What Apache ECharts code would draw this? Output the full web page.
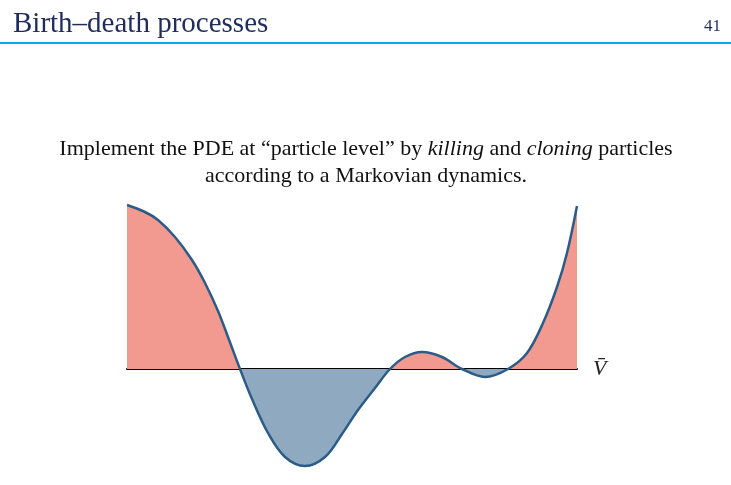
<!DOCTYPE html>
<html>
<head>
<meta charset="utf-8">
<title>Birth–death processes</title>
<script src="https://cdn.jsdelivr.net/npm/echarts@6/dist/echarts.min.js"></script>
<style>
  html, body { margin: 0; padding: 0; background: #fff; }
  #chart { width: 731px; height: 485px; }
</style>
</head>
<body>
<div id="chart"></div>
<script>
// ---- DATA (y = height above the level V̄) ----
const xs = [0, 18, 31, 48, 65, 78, 91, 101, 113, 125, 141, 158, 178, 198, 215,
            231, 248, 263, 278, 295, 315, 335, 358, 381, 400, 416, 430, 440, 450];
const ys = [164, 157, 149, 132, 109, 86, 58, 32, 0, -30, -64, -88, -97, -88, -65,
            -41, -19, 0, 12, 17, 12, 0, -8, 0, 16, 46, 82, 116, 163];
const levelLabel = 'V\u0304';

const serif = '"Liberation Serif", "DejaVu Serif", serif';
const points = xs.map((x, i) => [x, ys[i]]);

const chart = echarts.init(document.getElementById('chart'), null, { renderer: 'canvas' });
chart.setOption({
  backgroundColor: '#fff',
  animation: false,
  title: {
    text: 'Birth–death processes',
    left: 8, top: 5,
    textStyle: { fontFamily: serif, fontSize: 29, fontWeight: 'normal', color: '#1f2c5c' }
  },
  graphic: [
    { type: 'rect', shape: { x: 0, y: 42, width: 731, height: 2 }, style: { fill: '#00adef' } },
    { type: 'text', right: 10, top: 18,
      style: { text: '41', font: '17px ' + serif, fill: '#1f2c5c' } },
    { type: 'text', x: 366, y: 136,
      style: {
        text: '{n|Implement the PDE at “particle level” by }{i|killing}{n| and }{i|cloning}{n| particles}\n{n|according to a Markovian dynamics.}',
        align: 'center',
        rich: {
          n: { fontFamily: serif, fontSize: 22, fill: '#111', lineHeight: 27 },
          i: { fontFamily: serif, fontSize: 22, fontStyle: 'italic', fill: '#111', lineHeight: 27 }
        }
      } }
  ],
  grid: { left: 127, right: 154, top: 199, bottom: 16 },
  xAxis: {
    type: 'value', min: 0, max: 450,
    name: levelLabel, nameLocation: 'end', nameGap: 16,
    nameTextStyle: { fontFamily: serif, fontStyle: 'italic', fontSize: 22, color: '#222', verticalAlign: 'middle' },
    axisLine: { onZero: true, lineStyle: { color: '#000', width: 2 } },
    axisTick: { show: false }, axisLabel: { show: false }, splitLine: { show: false }
  },
  yAxis: {
    type: 'value', min: -100, max: 170,
    axisLine: { show: false }, axisTick: { show: false },
    axisLabel: { show: false }, splitLine: { show: false }
  },
  visualMap: {
    show: false, type: 'piecewise', dimension: 1, seriesIndex: 0,
    pieces: [
      { min: 0, max: 200, color: '#f29a8f' },
      { min: -200, max: 0, color: '#8ea9c0' }
    ]
  },
  series: [
    {
      type: 'line', data: points, smooth: 0.35, symbol: 'none', z: 1,
      lineStyle: { width: 0 },
      areaStyle: { opacity: 1 }
    },
    {
      type: 'line', data: points, smooth: 0.35, symbol: 'none', z: 3,
      lineStyle: { color: '#2b5c88', width: 2.5 }
    }
  ]
});
</script>
</body>
</html>
